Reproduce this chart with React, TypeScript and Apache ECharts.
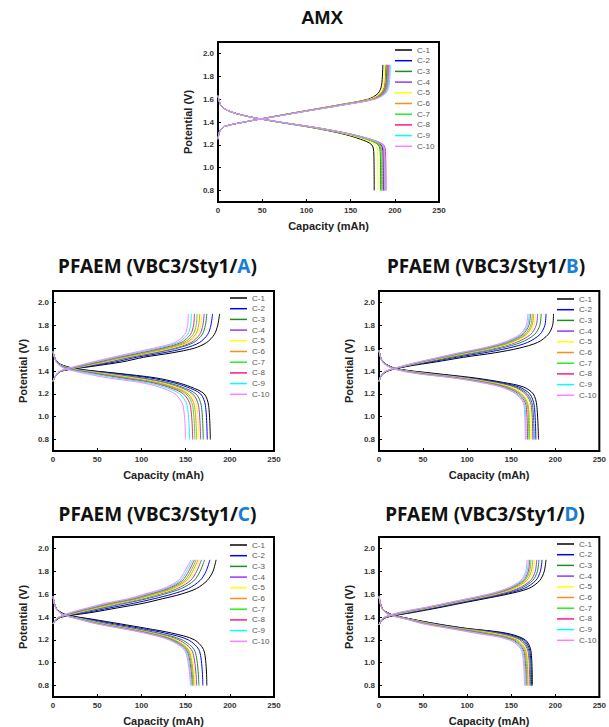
import React, { useEffect, useRef } from 'react';
import * as echarts from 'echarts';

const CYCLES = ['C-1', 'C-2', 'C-3', 'C-4', 'C-5', 'C-6', 'C-7', 'C-8', 'C-9', 'C-10'];
const COLORS = ['#000000', '#0000ff', '#1e8c1e', '#8c3cff', '#ffff00', '#ff8c1a', '#22ee22', '#ff1a80', '#00ffff', '#ff80ff'];
const X_MIN = 0;
const X_MAX = 250;
const X_STEP = 50;
const Y_MIN = 0.7;
const Y_MAX = 2.1;

// ---- AMX ----
const AMX_CH_V = [1.25, 1.32, 1.36, 1.40, 1.45, 1.50, 1.55, 1.60, 1.65, 1.72, 1.90];
const AMX_CH = [
  [0, 2, 7, 30, 64, 100, 137, 170, 181, 185, 186.5],
  [0, 2, 7, 30, 65.4, 102.3, 140.2, 174, 185.5, 189.5, 191],
  [0, 2, 7, 30, 65, 101.8, 139.5, 173.2, 184.5, 188.5, 190],
  [0, 2, 7, 30, 65.7, 102.8, 140.9, 175, 186.5, 190.5, 192],
  [0, 2, 7, 30, 64.6, 101, 138.4, 171.8, 183, 187, 188.5],
  [0, 2, 7, 30, 65.2, 102, 139.8, 173.6, 185, 189, 190.5],
  [0, 2, 7, 30, 65.8, 103, 141.2, 175.4, 187, 191, 192.5],
  [0, 2, 7, 30, 66.1, 103.5, 141.9, 176.3, 188, 192, 193.5],
  [0, 2, 7, 30, 66.6, 104.3, 143, 177.7, 189.5, 193.5, 195],
  [0, 2, 7, 30, 66.3, 103.8, 142.3, 176.8, 188.5, 192.5, 194],
];
const AMX_DC_V = [1.63, 1.55, 1.50, 1.45, 1.40, 1.35, 1.30, 1.25, 1.20, 1.12, 0.80];
const AMX_DC = [
  [0, 3, 11, 33, 67, 107, 139, 161, 174, 176.3, 176.7],
  [0, 3, 11, 33, 69, 111, 145, 170, 184.3, 186.6, 187],
  [0, 3, 11, 33, 68.5, 110, 143.4, 167.2, 181.3, 183.6, 184],
  [0, 3, 11, 33, 69.3, 111.5, 145.8, 170.6, 185.3, 187.6, 188],
  [0, 3, 11, 33, 68, 108.7, 141.6, 164.7, 178.3, 180.6, 181],
  [0, 3, 11, 33, 68.9, 110.7, 144.6, 168.9, 183.3, 185.6, 186],
  [0, 3, 11, 33, 68.7, 110.3, 144, 168, 182.3, 184.6, 185],
  [0, 3, 11, 33, 69.7, 112.3, 147, 172.3, 187.3, 189.6, 190],
  [0, 3, 11, 33, 69.5, 112, 146.4, 171.5, 186.3, 188.6, 189],
  [0, 3, 11, 33, 69.4, 111.7, 146, 171, 185.8, 188.1, 188.5],
];

// ---- PFAEM A ----
const A_CH_V = [1.31, 1.36, 1.40, 1.44, 1.48, 1.52, 1.56, 1.60, 1.65, 1.72, 1.80, 1.90];
const A_CH = [
  [0, 3, 10, 44, 78.5, 102.5, 135.5, 160, 174, 182.5, 186.3, 188.5],
  [0, 3, 9.5, 39.7, 71, 94.5, 125.3, 149.6, 165.9, 175, 178.6, 180.5],
  [0, 3, 9.2, 36.2, 64.8, 88, 116.9, 141.2, 159.3, 168.8, 172.4, 174],
  [0, 3, 9, 34.6, 62, 85, 113.1, 137.3, 156.3, 166, 169.5, 171],
  [0, 3, 8.9, 33.3, 59.6, 82.5, 109.9, 134.1, 153.7, 163.6, 167.2, 168.5],
  [0, 3, 8.7, 32, 57.3, 80, 106.7, 130.8, 151.2, 161.3, 164.7, 166],
  [0, 3, 8.6, 30.4, 54.5, 77, 102.8, 127, 148.2, 158.5, 161.9, 163],
  [0, 3, 8.4, 28.7, 51.6, 74, 99, 123.1, 145.1, 155.6, 159, 160],
  [0, 3, 8.2, 26.9, 48.3, 70.5, 94.5, 118.6, 141.6, 152.3, 155.7, 156.5],
  [0, 3, 8, 25, 45, 67, 90, 114, 138, 149, 152.3, 153],
];
const A_DC_V = [1.57, 1.50, 1.46, 1.42, 1.38, 1.34, 1.30, 1.26, 1.20, 1.10, 0.80];
const A_DC = [
  [0, 3, 8, 26, 73, 116, 140, 156, 171, 176, 178],
  [0, 2.9, 7.7, 24.4, 68.3, 109.3, 134.8, 151.5, 166.9, 172.4, 174.5],
  [0, 2.8, 7.3, 22.4, 62.1, 100.6, 128.1, 145.7, 161.6, 167.7, 170],
  [0, 2.7, 7, 21.1, 58.1, 94.8, 123.7, 141.9, 158, 164.6, 167],
  [0, 2.7, 6.8, 20.2, 55.4, 91, 120.7, 139.3, 155.7, 162.5, 165],
  [0, 2.6, 6.6, 19.1, 52, 86.1, 117, 136.1, 152.7, 159.9, 162.5],
  [0, 2.6, 6.4, 18.2, 49.2, 82.2, 114.1, 133.5, 150.4, 157.9, 160.5],
  [0, 2.5, 6.2, 17.1, 45.9, 77.4, 110.4, 130.3, 147.4, 155.3, 158],
  [0, 2.4, 5.9, 15.5, 41.1, 70.7, 105.2, 125.8, 143.3, 151.7, 154.5],
  [0, 2.3, 5.5, 13.5, 35, 62, 98.5, 120, 138, 147, 150],
];

// ---- PFAEM B ----
const B_CH_V = [1.31, 1.36, 1.40, 1.44, 1.48, 1.52, 1.56, 1.60, 1.65, 1.72, 1.80, 1.90];
const B_CH = [
  [0, 3, 10, 32, 65, 96, 132, 159, 180, 192, 197, 198],
  [0, 2.9, 9.4, 29.9, 59.1, 87.8, 120, 146.7, 168.6, 182.6, 188.2, 189.5],
  [0, 2.8, 9, 28.6, 55.3, 82.5, 112.2, 138.7, 161.2, 176.5, 182.5, 184],
  [0, 2.7, 8.8, 27.7, 52.6, 78.6, 106.5, 132.9, 155.8, 172.1, 178.4, 180],
  [0, 2.6, 8.6, 27.1, 50.9, 76.2, 103, 129.3, 152.4, 169.4, 175.8, 177.5],
  [0, 2.6, 8.4, 26.6, 49.5, 74.3, 100.2, 126.4, 149.7, 167.2, 173.7, 175.5],
  [0, 2.6, 8.3, 26.2, 48.4, 72.8, 98.1, 124.2, 147.7, 165.5, 172.2, 174],
  [0, 2.5, 8.2, 25.7, 47.1, 70.9, 95.2, 121.3, 145, 163.3, 170.1, 172],
  [0, 2.5, 8.1, 25.4, 46, 69.5, 93.1, 119.2, 143, 161.7, 168.6, 170.5],
  [0, 2.5, 8, 25, 45, 68, 91, 117, 141, 160, 167, 169],
];
const B_DC_V = [1.58, 1.50, 1.46, 1.42, 1.38, 1.34, 1.30, 1.26, 1.20, 1.10, 0.80];
const B_DC = [
  [0, 3, 8, 20, 62, 108, 141, 164, 175, 179, 181],
  [0, 2.9, 7.7, 19.2, 57.6, 103, 135.8, 158.8, 171, 176.1, 178],
  [0, 2.9, 7.5, 18.7, 54.7, 99.7, 132.3, 155.3, 168.3, 174.2, 176],
  [0, 2.8, 7.4, 18.3, 52.5, 97.2, 129.7, 152.7, 166.3, 172.7, 174.5],
  [0, 2.8, 7.2, 17.9, 50.3, 94.7, 127.1, 150.1, 164.3, 171.3, 173],
  [0, 2.7, 7, 17.3, 47.3, 91.3, 123.7, 146.7, 161.7, 169.3, 171],
  [0, 2.7, 6.9, 17.1, 45.9, 89.7, 121.9, 144.9, 160.3, 168.4, 170],
  [0, 2.7, 6.8, 16.7, 43.7, 87.2, 119.3, 142.3, 158.3, 166.9, 168.5],
  [0, 2.6, 6.6, 16.3, 41.5, 84.7, 116.7, 139.7, 156.3, 165.5, 167],
  [0, 2.6, 6.5, 16, 40, 83, 115, 138, 155, 164.5, 166],
];

// ---- PFAEM C ----
const C_CH_V = [1.34, 1.37, 1.40, 1.44, 1.48, 1.52, 1.56, 1.60, 1.65, 1.72, 1.80, 1.90];
const C_CH = [
  [0, 3, 10, 44, 73, 102, 124, 145, 162.5, 174.5, 181, 184.5],
  [0, 2.9, 9.1, 38.1, 64.6, 91.4, 114.4, 134.7, 153.3, 166.5, 173.1, 177.5],
  [0, 2.8, 8.4, 33.1, 57.5, 82.4, 106.2, 125.8, 145.4, 159.7, 166.4, 171.5],
  [0, 2.7, 8, 30.1, 53.3, 77.1, 101.4, 120.7, 140.8, 155.7, 162.5, 168],
  [0, 2.7, 7.7, 28.4, 50.9, 74.1, 98.7, 117.7, 138.2, 153.4, 160.2, 166],
  [0, 2.6, 7.5, 26.7, 48.6, 71.1, 96, 114.8, 135.5, 151.1, 158, 164],
  [0, 2.6, 7.2, 25.1, 46.2, 68.1, 93.2, 111.9, 132.9, 148.9, 155.8, 162],
  [0, 2.6, 7, 23.4, 43.8, 65, 90.5, 108.9, 130.2, 146.5, 153.5, 160],
  [0, 2.5, 6.7, 21.7, 41.4, 62, 87.7, 105.9, 127.6, 144.3, 151.2, 158],
  [0, 2.5, 6.5, 20, 39, 59, 85, 103, 125, 142, 149, 156],
];
const C_DC_V = [1.58, 1.50, 1.46, 1.42, 1.38, 1.34, 1.30, 1.26, 1.20, 1.10, 0.80];
const C_DC = [
  [0, 2.4, 5.5, 15, 45, 76, 106, 134, 160, 171, 174],
  [0, 2.3, 5.3, 14, 41.1, 69.4, 99, 126.5, 153, 165.8, 169.5],
  [0, 2.2, 5, 13.1, 37.2, 62.9, 91.9, 118.9, 145.9, 160.6, 165],
  [0, 2.2, 4.9, 12.5, 35, 59.2, 88, 114.7, 142, 157.6, 162.5],
  [0, 2.1, 4.8, 12.2, 33.8, 57, 85.6, 112.2, 139.6, 155.9, 161],
  [0, 2.1, 4.7, 11.9, 32.5, 54.8, 83.3, 109.7, 137.3, 154.1, 159.5],
  [0, 2.1, 4.7, 11.6, 31.6, 53.4, 81.7, 108, 135.7, 153, 158.5],
  [0, 2, 4.6, 11.4, 30.7, 51.9, 80.1, 106.3, 134.1, 151.8, 157.5],
  [0, 2, 4.6, 11.2, 29.9, 50.5, 78.6, 104.7, 132.6, 150.7, 156.5],
  [0, 2, 4.5, 11, 29, 49, 77, 103, 131, 149.5, 155.5],
];

// ---- PFAEM D ----
const D_CH_V = [1.33, 1.37, 1.40, 1.44, 1.48, 1.52, 1.56, 1.60, 1.65, 1.72, 1.80, 1.90];
const D_CH = [
  [0, 3, 10, 39, 67, 93, 120, 146, 170, 182.5, 187.5, 189.5],
  [0, 2.9, 9.3, 35.7, 63.4, 89.2, 115.8, 141.4, 164.8, 178, 183.1, 185],
  [0, 2.8, 8.7, 33, 60.7, 86.3, 112.6, 137.8, 160.7, 174.5, 179.7, 181.5],
  [0, 2.8, 8.3, 31.2, 58.7, 84.2, 110.2, 135.3, 157.8, 172, 177.3, 179],
  [0, 2.7, 7.9, 29.3, 56.7, 82.1, 107.9, 132.7, 154.9, 169.5, 174.8, 176.5],
  [0, 2.7, 7.6, 27.8, 55.1, 80.4, 106, 130.6, 152.5, 167.5, 172.8, 174.5],
  [0, 2.6, 7.2, 26.3, 53.6, 78.8, 104.2, 128.6, 150.2, 165.5, 170.9, 172.5],
  [0, 2.6, 7, 25.2, 52.4, 77.5, 102.8, 127.1, 148.5, 164, 169.4, 171],
  [0, 2.5, 6.7, 24.1, 51.2, 76.3, 101.4, 125.5, 146.8, 162.5, 168, 169.5],
  [0, 2.5, 6.5, 23, 50, 75, 100, 124, 145, 161, 166.5, 168],
];
const D_DC_V = [1.58, 1.50, 1.46, 1.42, 1.38, 1.34, 1.30, 1.26, 1.20, 1.10, 0.80];
const D_DC = [
  [0, 2.4, 5.5, 15, 38, 66, 100, 143.5, 166, 172.5, 174],
  [0, 2.4, 5.4, 14.6, 37.2, 64.2, 97.7, 139.6, 163.9, 171.3, 173],
  [0, 2.3, 5.3, 14.1, 36.4, 62.4, 95.3, 135.6, 161.9, 170.2, 172],
  [0, 2.3, 5.2, 13.7, 35.7, 60.7, 93, 131.7, 159.8, 169, 171],
  [0, 2.2, 5.1, 13.2, 34.9, 58.9, 90.7, 127.7, 157.8, 167.8, 170],
  [0, 2.2, 5, 12.8, 34.1, 57.1, 88.3, 123.8, 155.7, 166.7, 169],
  [0, 2.1, 4.8, 12.3, 33.3, 55.3, 86, 119.8, 153.7, 165.5, 168],
  [0, 2.1, 4.7, 11.9, 32.6, 53.6, 83.7, 115.9, 151.6, 164.3, 167],
  [0, 2, 4.6, 11.4, 31.8, 51.8, 81.3, 112, 149.6, 163.2, 166],
  [0, 2, 4.5, 11, 31, 50, 79, 108, 147.5, 162, 165],
];

const X_NAME = 'Capacity (mAh)';
const Y_NAME = 'Potential (V)';

const PANELS = [
  { title: 'AMX', letter: '', tx: 322, ty: 17, grid: { left: 218, top: 42 }, legend: { left: 395, top: 46 }, chV: AMX_CH_V, ch: AMX_CH, dcV: AMX_DC_V, dc: AMX_DC },
  { title: 'PFAEM (VBC3/Sty1/', letter: 'A', tx: 157.5, ty: 266, grid: { left: 53, top: 291 }, legend: { left: 230, top: 294 }, chV: A_CH_V, ch: A_CH, dcV: A_DC_V, dc: A_DC },
  { title: 'PFAEM (VBC3/Sty1/', letter: 'B', tx: 486, ty: 266, grid: { left: 379, top: 291 }, legend: { left: 557, top: 295 }, chV: B_CH_V, ch: B_CH, dcV: B_DC_V, dc: B_DC },
  { title: 'PFAEM (VBC3/Sty1/', letter: 'C', tx: 157.5, ty: 514, grid: { left: 53, top: 537 }, legend: { left: 230, top: 541 }, chV: C_CH_V, ch: C_CH, dcV: C_DC_V, dc: C_DC },
  { title: 'PFAEM (VBC3/Sty1/', letter: 'D', tx: 485, ty: 514, grid: { left: 379, top: 537 }, legend: { left: 557, top: 540 }, chV: D_CH_V, ch: D_CH, dcV: D_DC_V, dc: D_DC },
];

const FONT = '"Liberation Sans", Arial, sans-serif';
const LEGEND_ICON = 'path://M0,0H40V3.5H0Z';
const LEGEND_TEXT = { fontFamily: FONT, fontSize: 8, color: '#555555', lineHeight: 8 };

function buildOption() {
  const grid: any[] = [];
  const xAxis: any[] = [];
  const yAxis: any[] = [];
  const legend: any[] = [];
  const series: any[] = [];
  const graphic: any[] = [];

  PANELS.forEach((p, gi) => {
    grid.push({
      left: p.grid.left, top: p.grid.top, width: 221, height: 160,
      show: true, borderColor: '#000', borderWidth: 2, backgroundColor: 'transparent',
    });
    xAxis.push({
      gridIndex: gi, type: 'value', min: X_MIN, max: X_MAX, interval: X_STEP,
      name: X_NAME, nameLocation: 'middle', nameGap: 18,
      nameTextStyle: { fontFamily: FONT, fontWeight: 'bold', fontSize: 11, color: '#222' },
      axisLine: { show: true, onZero: false, lineStyle: { color: '#000', width: 2 } },
      axisTick: { show: true, inside: true, length: 3, lineStyle: { color: '#000', width: 1 } },
      axisLabel: { fontFamily: FONT, fontWeight: 'bold', fontSize: 8, color: '#333', margin: 4 },
      splitLine: { show: false },
    });
    yAxis.push({
      gridIndex: gi, type: 'value', min: Y_MIN, max: Y_MAX, splitNumber: 7,
      name: Y_NAME, nameLocation: 'middle', nameGap: 25,
      nameTextStyle: { fontFamily: FONT, fontWeight: 'bold', fontSize: 11, color: '#222' },
      axisLine: { show: true, onZero: false, lineStyle: { color: '#000', width: 2 } },
      axisTick: { show: true, inside: true, length: 3, lineStyle: { color: '#000', width: 1 } },
      axisLabel: {
        fontFamily: FONT, fontWeight: 'bold', fontSize: 8, color: '#333', margin: 4,
        showMinLabel: false, showMaxLabel: false,
        formatter: (v: number) => {
          const t = Math.round(v * 10);
          if (t < 8 || t > 20 || t % 2 !== 0 || Math.abs(v * 10 - t) > 0.01) return '';
          return (t / 10).toFixed(1);
        },
      },
      splitLine: { show: false },
    });
    legend.push({
      data: CYCLES.map((name) => ({ name, icon: LEGEND_ICON, textStyle: { ...LEGEND_TEXT } })),
      orient: 'vertical', left: p.legend.left, top: p.legend.top,
      itemWidth: 17, itemHeight: 8, itemGap: 2.7, padding: 0, selectedMode: false,
      symbolKeepAspect: true,
      textStyle: { ...LEGEND_TEXT },
    });
    CYCLES.forEach((name, i) => {
      const common = {
        type: 'line', name, xAxisIndex: gi, yAxisIndex: gi, symbol: 'none', showSymbol: false,
        smooth: 0.3, lineStyle: { width: 1, color: COLORS[i] }, itemStyle: { color: COLORS[i] },
        silent: true, z: 2,
      };
      series.push({ ...common, data: p.ch[i].map((c, j) => [c, p.chV[j]]) });
      series.push({ ...common, data: p.dc[i].map((c, j) => [c, p.dcV[j]]) });
    });
    if (p.letter) {
      graphic.push({
        type: 'text', x: p.tx, y: p.ty,
        style: {
          text: `{a|${p.title}}{b|${p.letter}}{a|)}`,
          align: 'center', verticalAlign: 'middle',
          rich: {
            a: { fontFamily: '"Noto Sans", sans-serif', fontWeight: 'bold', fontSize: 19, fill: '#111' },
            b: { fontFamily: '"Noto Sans", sans-serif', fontWeight: 'bold', fontSize: 19, fill: '#1a7fd4' },
          },
        },
      });
    } else {
      graphic.push({
        type: 'text', x: p.tx, y: p.ty,
        style: {
          text: p.title, align: 'center', verticalAlign: 'middle',
          fontFamily: FONT, fontWeight: 'bold', fontSize: 19, fill: '#111',
        },
      });
    }
  });

  return {
    animation: false,
    backgroundColor: '#ffffff',
    grid, xAxis, yAxis, legend, series, graphic,
  };
}

export default function App() {
  const ref = useRef<HTMLDivElement>(null);
  useEffect(() => {
    if (!ref.current) return;
    const chart = echarts.init(ref.current, undefined, { renderer: 'svg' });
    chart.setOption(buildOption() as any);
    return () => chart.dispose();
  }, []);
  return (
    <div
      ref={ref}
      style={{ position: 'absolute', left: 0, top: 0, width: 609, height: 727, background: '#fff' }}
    />
  );
}
